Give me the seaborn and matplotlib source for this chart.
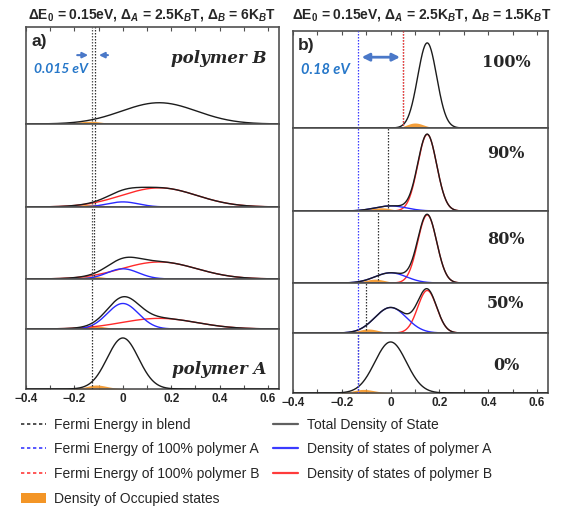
import numpy as np
import matplotlib
matplotlib.use("Agg")
import matplotlib.pyplot as plt
from matplotlib.lines import Line2D
from matplotlib.patches import Patch
import seaborn as sns

# model parameters (titles + curve positions)
kT = 0.02585
E_A = 0.0
E_B = 0.15
sigma_A = 2.5 * kT
sigma_B_left = 6.0 * kT
sigma_B_right = 1.5 * kT

frac_B = [1.0, 0.9, 0.8, 0.5, 0.0]
pct_labels = ['100%', '90%', '80%', '50%', '0%']

# Fermi levels (eV) for each row, top to bottom
fermi_blend_left = [-0.114, -0.117, -0.120, -0.126, -0.128]
fermi_blend_right = [0.052, -0.010, -0.052, -0.099, -0.132]
fermi_A_left, fermi_B_left = -0.128, -0.114
fermi_A_right, fermi_B_right = -0.132, 0.052

x_ticks = [-0.4, -0.2, 0, 0.2, 0.4, 0.6]
x_ticklabels = ['\u22120.4', '\u22120.2', '0', '0.2', '0.4', '0.6']

titles = [r"$\Delta$E$_0$ = 0.15eV, $\Delta_A$ = 2.5K$_B$T, $\Delta_B$ = 6K$_B$T",
          r"$\Delta$E$_0$ = 0.15eV, $\Delta_A$ = 2.5K$_B$T, $\Delta_B$ = 1.5K$_B$T"]

C_TOT = '#1c1c1c'
C_A = '#2a2aff'
C_B = '#ff2a2a'
C_OCC = '#f39526'
C_ANN = '#2677c9'
C_ARROW = '#4a78c8'

sns.set_theme(style='white')
plt.rcParams['font.family'] = ['Liberation Sans', 'DejaVu Sans']
plt.rcParams['mathtext.fontset'] = 'custom'
plt.rcParams['mathtext.rm'] = 'Liberation Sans:bold'
plt.rcParams['mathtext.it'] = 'Liberation Sans:bold:italic'
plt.rcParams['mathtext.bf'] = 'Liberation Sans:bold'

W, H = 566, 511
fig = plt.figure(figsize=(W / 100, H / 100), dpi=100)

row_px = [97, 83, 72, 50, 60]
px_per_unit = 8.27
E = np.linspace(-0.4, 0.65, 700)


def gauss(x, mu, s):
    return np.exp(-0.5 * ((x - mu) / s) ** 2) / (s * np.sqrt(2 * np.pi))


def make_panel(x0, x1, top):
    axes = []
    y = top
    for h in row_px:
        ax = fig.add_axes([x0 / W, 1 - (y + h) / H, (x1 - x0) / W, h / H])
        ax.set_xlim(-0.4, 0.645)
        ax.set_ylim(0, h / px_per_unit)
        ax.set_yticks([])
        ax.set_xticks([])
        for sp in ax.spines.values():
            sp.set_color('#505050')
            sp.set_linewidth(1.2)
        axes.append(ax)
        y += h
    return axes


def draw_panel(axes, sigma_B, fermi_blend):
    for i, ax in enumerate(axes):
        fb = frac_B[i]
        dos_A = (1 - fb) * gauss(E, E_A, sigma_A)
        dos_B = fb * gauss(E, E_B, sigma_B)
        total = dos_A + dos_B
        occ = total / (1 + np.exp((E - fermi_blend[i]) / kT))
        ax.fill_between(E, 0, occ, color=C_OCC, lw=0, alpha=0.9, zorder=1)
        if 0 < fb < 1:
            sns.lineplot(x=E, y=dos_B, ax=ax, color=C_B, lw=1.0, zorder=2)
            sns.lineplot(x=E, y=dos_A, ax=ax, color=C_A, lw=1.0, zorder=2)
        sns.lineplot(x=E, y=total, ax=ax, color=C_TOT, lw=1.0, zorder=3)
        ax.axvline(fermi_blend[i], color='#333333', ls=(0, (1.2, 1.2)), lw=0.9, zorder=4)
        ax.set_xlabel('')
        ax.set_ylabel('')

    top, bot = axes[0], axes[-1]
    top.set_xticks(np.arange(-0.4, 0.65, 0.1))
    top.tick_params(axis='x', which='both', direction='in', top=True, bottom=False,
                    labelbottom=False, length=3, width=0.8, color='#505050')
    bot.set_xticks(x_ticks)
    bot.set_xticklabels(x_ticklabels)
    bot.set_xticks(np.arange(-0.3, 0.65, 0.2), minor=True)
    bot.tick_params(axis='x', which='both', direction='in', bottom=True, length=3,
                    width=0.8, color='#505050', labelsize=8.5, pad=3)
    for lab in bot.get_xticklabels():
        lab.set_fontweight('bold')


left = make_panel(26, 279, 27)
right = make_panel(293, 548, 31)
draw_panel(left, sigma_B_left, fermi_blend_left)
draw_panel(right, sigma_B_right, fermi_blend_right)

# reference Fermi levels
for ax in left[:3]:
    ax.axvline(fermi_A_left, color='#555555', ls=(0, (1.2, 1.2)), lw=0.9, zorder=4)
for ax in right:
    ax.axvline(fermi_A_right, color='#3b3bff', ls=(0, (1.2, 1.2)), lw=0.9, zorder=4)
right[0].axvline(fermi_B_right, color='#ff3b3b', ls=(0, (1.2, 1.2)), lw=0.9, zorder=5)

# titles
fig.text(152 / W, 1 - 15 / H, titles[0], ha='center', va='center', fontsize=10, fontweight='bold')
fig.text(422 / W, 1 - 15 / H, titles[1], ha='center', va='center', fontsize=10, fontweight='bold')

# panel letters
left[0].text(0.02, 0.85, 'a)', transform=left[0].transAxes, fontsize=12.5, fontweight='bold', va='center')
right[0].text(0.02, 0.85, 'b)', transform=right[0].transAxes, fontsize=12.5, fontweight='bold', va='center')

serif = ['DejaVu Serif']
left[0].text(0.95, 0.68, 'polymer B', transform=left[0].transAxes, ha='right', va='center',
             fontsize=12, fontweight='bold', fontstyle='italic', family=serif)
left[-1].text(0.95, 0.32, 'polymer A', transform=left[-1].transAxes, ha='right', va='center',
              fontsize=12, fontweight='bold', fontstyle='italic', family=serif)
pct_y = [0.68, 0.69, 0.6, 0.6, 0.46]
for ax, lab, yy in zip(right, pct_labels, pct_y):
    ax.text(0.835, yy, lab, transform=ax.transAxes, ha='center', va='center',
            fontsize=11.5, fontweight='bold', family=serif)

# energy gap annotations
ax = left[0]
ax.annotate('', xy=(fermi_A_left - 0.004, 0.71), xytext=(-0.2, 0.71),
            xycoords=('data', 'axes fraction'), textcoords=('data', 'axes fraction'),
            arrowprops=dict(arrowstyle='-|>', color=C_ARROW, lw=1.5, mutation_scale=8))
ax.annotate('', xy=(fermi_B_left + 0.004, 0.71), xytext=(-0.05, 0.71),
            xycoords=('data', 'axes fraction'), textcoords=('data', 'axes fraction'),
            arrowprops=dict(arrowstyle='-|>', color=C_ARROW, lw=1.5, mutation_scale=8))
ax.text(-0.255, 0.57, '0.015 eV', transform=ax.get_xaxis_transform(), ha='center', va='center',
        fontsize=10, fontweight='bold', fontstyle='italic', color=C_ANN, family=['Lato', 'DejaVu Sans'])

ax = right[0]
ax.annotate('', xy=(fermi_B_right - 0.002, 0.73), xytext=(fermi_A_right + 0.002, 0.73),
            xycoords=('data', 'axes fraction'), textcoords=('data', 'axes fraction'),
            arrowprops=dict(arrowstyle='<|-|>', color=C_ARROW, lw=2, mutation_scale=11))
ax.text(-0.268, 0.6, '0.18 eV', transform=ax.get_xaxis_transform(), ha='center', va='center',
        fontsize=10.5, fontweight='bold', fontstyle='italic', color=C_ANN, family=['Lato', 'DejaVu Sans'])

# legend
dot = (0, (2, 1.6))
handles = [
    Line2D([], [], color='#333333', ls=dot, lw=1.2),
    Line2D([], [], color='#3b3bff', ls=dot, lw=1.2),
    Line2D([], [], color='#ff3b3b', ls=dot, lw=1.2),
    Patch(facecolor=C_OCC, edgecolor='none'),
    Line2D([], [], color='#606060', lw=1.6),
    Line2D([], [], color='#3b3bff', lw=1.6),
    Line2D([], [], color='#ff3b3b', lw=1.6),
]
labels = ['Fermi Energy in blend', 'Fermi Energy of 100% polymer A',
          'Fermi Energy of 100% polymer B', 'Density of Occupied states',
          'Total Density of State', 'Density of states of polymer A',
          'Density of states of polymer B']
fig.legend(handles, labels, ncol=2, loc='upper left', bbox_to_anchor=(8 / W, 1 - 405 / H),
           frameon=False, fontsize=10, handlelength=1.8, handletextpad=0.6,
           columnspacing=1.0, labelspacing=0.78, borderpad=0.4)

fig.savefig('out.png', dpi=100)
